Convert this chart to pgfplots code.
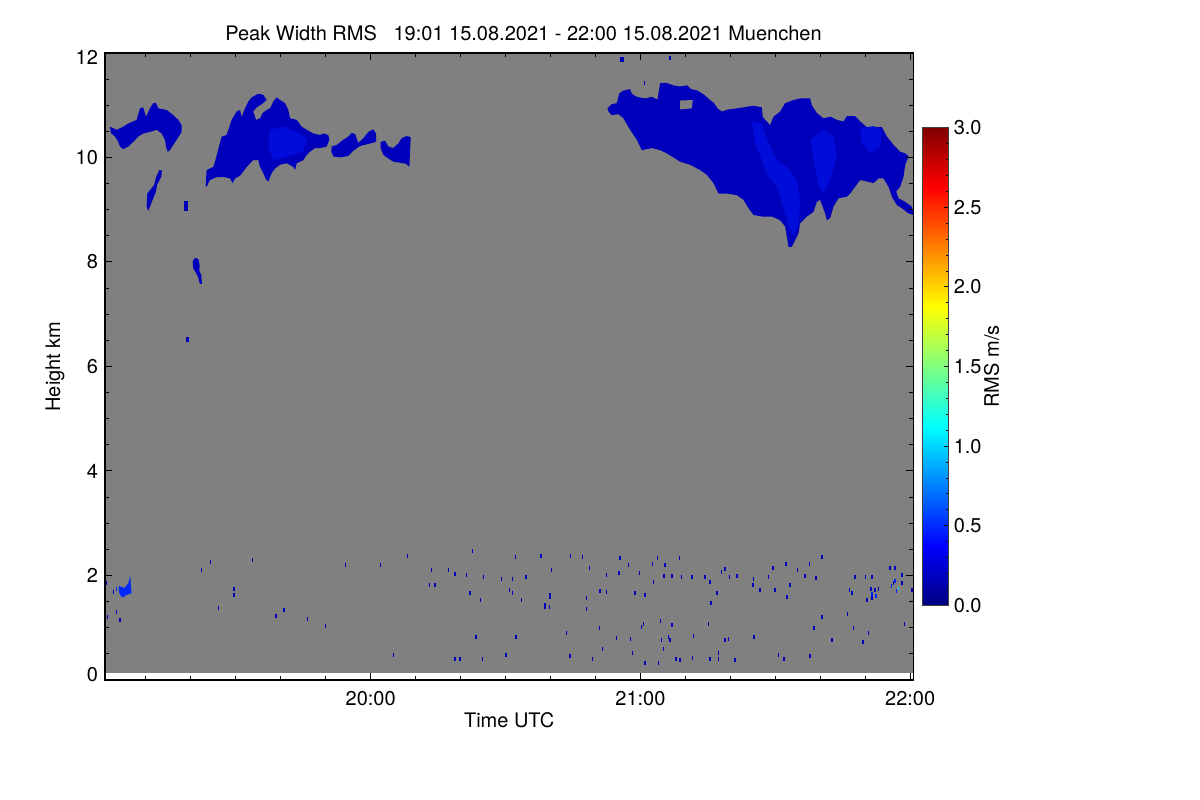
\documentclass[border=0pt]{standalone}
\usepackage{fontspec}
\setmainfont{TeX Gyre Heros}
\usepackage{pgfplots}
\pgfplotsset{compat=1.18}
\pgfkeys{/pgf/number format/assume math mode=true}
\definecolor{bg}{RGB}{128,128,128}
\definecolor{cdark}{RGB}{0,0,188}
\definecolor{clight}{RGB}{0,12,218}
\definecolor{cdot}{RGB}{0,0,185}
\definecolor{cbright}{RGB}{0,40,255}
\definecolor{ccyan}{RGB}{0,220,255}
\begin{document}
\fontsize{10bp}{12bp}\selectfont
\begin{tikzpicture}
\path[use as bounding box] (0,0) rectangle (600bp,400bp);
\begin{axis}[
  at={(52.5bp,60bp)}, anchor=south west,
  scale only axis, width=404.15bp, height=313.5bp,
  xmin=0.9, xmax=180.7, ymin=0, ymax=12,
  axis on top,
  xtick={60,120,180}, xticklabels={20:00,21:00,22:00},
  minor xtick={10,20,30,40,50,70,80,90,100,110,130,140,150,160,170},
  ytick={0,2,4,6,8,10,12},
  yticklabels={\smash{\raisebox{-0.5bp}{0}},2,4,6,8,10,\smash{\raisebox{-5.75bp}{12}}},
  minor y tick num=3,
  tick align=inside, major tick length=3.5bp, minor tick length=2bp,
  tick style={black, line width=0.5bp},
  axis line style={line width=0.7bp},
  xticklabel style={yshift=-2.2bp},
  xlabel={Time UTC}, ylabel={Height km},
  every axis x label/.style={at={(axis description cs:0.5,0)}, anchor=center, yshift=-20bp},
  every axis y label/.style={at={(axis description cs:0,0.5)}, anchor=center, xshift=-25bp, rotate=90},
  colormap/jet, point meta min=0, point meta max=3,
  colorbar,
  colorbar shift/.style={},
  colorbar style={
    scale only axis, width=13bp, height=238.85bp,
    at={(parent axis.east)}, anchor=west, xshift=4.5bp,
    ytick={0,0.5,1,1.5,2,2.5,3}, minor y tick num=4,
    ytick pos=right, yticklabel pos=right,
    tick align=inside, major tick length=2bp, minor tick length=1.2bp,
    tick style={black, line width=0.4bp},
    yticklabel style={xshift=-0.8bp, /pgf/number format/.cd, fixed, fixed zerofill, precision=1},
    ylabel={RMS m/s},
    every axis y label/.style={at={(axis description cs:1,0.5)}, anchor=center, xshift=21.7bp, rotate=90},
    axis line style={gray!50!black, line width=0.5bp},
  },
]
% background (no data)
\addplot[fill=bg, draw=none] coordinates {(0.9,0.13) (180.7,0.13) (180.7,12) (0.9,12)};

% cloud A
\addplot[fill=cdark, draw=none] coordinates {(2.00,10.59) (3.49,10.53) (4.96,10.59) (6.07,10.65) (7.94,10.72) (8.68,10.94) (9.41,10.96) (10.01,10.78) (10.90,10.94) (11.64,11.04) (12.24,11.04) (12.75,10.94) (14.62,10.91) (16.09,10.81) (17.20,10.72) (17.96,10.62) (17.96,10.49) (16.84,10.34) (16.09,10.24) (15.35,10.14) (14.84,10.11) (14.46,10.21) (14.24,10.34) (13.51,10.46) (12.39,10.53) (10.90,10.49) (9.41,10.46) (8.30,10.40) (7.19,10.30) (6.07,10.21) (4.96,10.16) (4.23,10.21) (3.85,10.30) (3.12,10.40) (2.22,10.47)};
% cloud B
\addplot[fill=cdark, draw=none] coordinates {(23.29,9.46) (23.51,9.76) (24.99,9.82) (25.37,9.92) (26.85,10.40) (27.96,10.43) (29.07,10.72) (30.19,10.88) (30.93,10.91) (31.30,10.78) (32.04,10.94) (32.78,11.07) (33.52,11.15) (35.01,11.22) (36.12,11.20) (36.86,11.10) (35.75,11.02) (34.64,10.96) (33.89,10.88) (34.49,10.72) (35.38,10.75) (35.97,10.85) (36.86,10.91) (37.60,10.94) (38.34,11.07) (39.09,11.15) (39.83,11.10) (40.94,11.04) (41.68,10.91) (42.05,10.75) (43.54,10.72) (44.65,10.59) (45.76,10.53) (47.24,10.46) (48.73,10.43) (49.47,10.46) (50.58,10.43) (50.80,10.34) (50.21,10.21) (48.73,10.18) (47.62,10.18) (46.50,10.11) (45.76,10.05) (45.02,9.95) (43.54,9.89) (43.17,9.76) (42.79,9.82) (41.31,9.89) (39.83,9.86) (38.72,9.79) (37.97,9.70) (37.23,9.54) (36.71,9.58) (36.12,9.70) (35.38,9.82) (35.01,9.95) (33.89,9.95) (32.41,9.82) (31.67,9.73) (30.93,9.65) (29.82,9.60) (29.30,9.51) (28.70,9.60) (27.22,9.63) (25.59,9.62) (24.25,9.57) (23.51,9.44)};
\addplot[fill=clight, draw=none] coordinates {(37.61,10.53) (40.57,10.59) (44.28,10.46) (45.77,10.34) (45.02,10.11) (41.32,10.02) (38.35,9.95) (37.24,10.21)};
% cloud C, D
\addplot[fill=cdark, draw=none] coordinates {(51.32,10.21) (52.44,10.24) (53.92,10.34) (55.03,10.40) (55.77,10.47) (56.52,10.45) (57.26,10.28) (58.37,10.37) (59.48,10.49) (60.59,10.54) (61.19,10.46) (61.19,10.30) (59.48,10.26) (57.63,10.22) (56.14,10.13) (55.03,10.03) (53.18,10.00) (51.69,10.02) (51.25,10.11)};
\addplot[fill=cdark, draw=none] coordinates {(62.23,10.30) (63.19,10.32) (63.93,10.21) (65.04,10.18) (66.16,10.27) (66.90,10.37) (68.01,10.41) (68.90,10.39) (68.75,10.11) (68.60,9.82) (67.86,9.88) (66.53,9.90) (65.04,9.92) (63.93,9.98) (62.82,10.05) (62.23,10.18)};
% small pieces
\addplot[fill=cdark, draw=none] coordinates {(12.98,9.76) (13.57,9.75) (13.42,9.63) (12.53,9.49) (12.24,9.35) (11.64,9.22) (10.90,9.06) (10.53,8.98) (10.16,9.06) (10.31,9.31) (11.05,9.39) (11.79,9.47) (12.24,9.62)};
\addplot[fill=cdark, draw=none] coordinates {(18.54,8.98) (19.43,8.98) (19.43,9.17) (18.54,9.17)};
\addplot[fill=cdark, draw=none] coordinates {(20.39,8.01) (20.91,8.08) (21.65,8.06) (21.95,7.94) (21.88,7.83) (22.32,7.75) (22.47,7.58) (22.03,7.58) (21.58,7.72) (20.99,7.81) (20.54,7.88)};
\addplot[fill=cdark, draw=none] coordinates {(18.91,6.47) (19.58,6.47) (19.58,6.57) (18.91,6.57)};
\addplot[fill=cdark, draw=none] coordinates {(115.4,11.82) (116.3,11.82) (116.3,11.93) (115.4,11.93)};

% cloud R
\addplot[fill=cdark, draw=none] coordinates {(112.66,10.94) (113.63,11.02) (114.74,11.04) (115.33,11.23) (116.22,11.28) (117.71,11.31) (118.08,11.22) (119.19,11.16) (121.04,11.13) (122.53,11.16) (123.79,11.11) (124.38,11.42) (125.72,11.43) (127.35,11.38) (128.83,11.36) (130.46,11.38) (131.20,11.31) (132.69,11.28) (134.17,11.20) (135.36,11.11) (136.40,11.04) (137.14,10.94) (138.10,10.88) (139.59,10.92) (141.44,10.94) (143.67,10.97) (145.15,10.99) (147.00,10.96) (147.23,10.77) (148.86,10.62) (149.60,10.78) (151.08,10.88) (152.19,11.04) (154.05,11.10) (155.53,11.13) (157.76,11.13) (158.13,11.00) (159.24,10.85) (160.72,10.75) (162.21,10.78) (163.69,10.72) (165.17,10.69) (165.92,10.79) (167.77,10.79) (168.88,10.69) (170.37,10.58) (171.85,10.58) (173.70,10.58) (174.82,10.40) (176.30,10.24) (177.78,10.11) (178.90,10.08) (179.64,10.02) (178.90,9.86) (178.52,9.63) (177.78,9.44) (176.89,9.35) (177.41,9.22) (178.90,9.15) (180.38,9.06) (180.75,8.90) (179.64,8.93) (178.15,9.03) (177.04,9.09) (175.93,9.25) (175.19,9.44) (174.07,9.60) (172.96,9.60) (171.85,9.51) (170.37,9.54) (168.88,9.57) (167.77,9.44) (166.66,9.31) (165.92,9.25) (164.06,9.22) (162.95,9.06) (162.21,8.84) (161.47,8.80) (161.09,8.93) (159.98,9.19) (159.24,9.15) (158.50,8.96) (157.02,8.87) (155.53,8.74) (155.16,8.55) (153.68,8.29) (152.94,8.29) (152.57,8.49) (152.19,8.68) (151.08,8.80) (149.23,8.87) (147.00,8.87) (145.15,8.90) (144.04,9.03) (142.92,9.19) (141.44,9.28) (139.21,9.31) (137.36,9.31) (136.25,9.51) (134.76,9.67) (133.28,9.76) (131.06,9.86) (128.83,9.92) (126.98,10.02) (125.86,10.08) (124.38,10.14) (122.53,10.18) (120.30,10.14) (119.19,10.34) (117.71,10.53) (116.22,10.75) (115.11,10.83) (113.63,10.81) (112.88,10.88)};
\addplot[fill=bg, draw=none] coordinates {(128.83,11.09) (131.65,11.10) (131.43,10.94) (128.83,10.92)};
\addplot[fill=clight, draw=none] coordinates {(144.78,10.69) (147.00,10.65) (148.12,10.34) (150.34,9.95) (152.57,9.82) (154.79,9.57) (155.53,9.19) (155.16,8.68) (154.05,8.49) (152.94,8.68) (151.82,9.06) (150.34,9.44) (148.49,9.63) (147.00,9.95) (145.52,10.27)};
\addplot[fill=clight, draw=none] coordinates {(157.76,10.34) (160.72,10.53) (162.95,10.40) (163.69,10.02) (162.21,9.57) (160.72,9.31) (159.61,9.44) (158.87,9.82)};
\addplot[fill=clight, draw=none] coordinates {(168.88,10.56) (171.85,10.60) (173.70,10.53) (173.33,10.21) (171.11,10.08) (169.25,10.27)};

% low-level cluster
\addplot[fill=cbright, draw=none] coordinates {(4.0,1.80) (5.2,1.76) (6.1,1.85) (6.5,1.99) (6.8,1.66) (5.7,1.63) (4.6,1.58) (4.0,1.68)};

% speckles
\addplot[only marks, mark=|, mark size=1bp, line width=0.7bp, color=cdot] coordinates {
(1.26,1.86) (2.75,1.69) (3.49,1.31) (4.23,1.14) (1.49,1.20) (22.40,2.10) (24.41,2.26) (26.11,1.38) (29.60,1.62) (29.60,1.75) (33.68,2.30) (38.94,1.22) (40.72,1.34) (45.91,1.17) (49.99,1.03) (54.44,2.20) (62.23,2.20) (65.05,0.48) (68.16,2.37) (73.06,1.82) (74.32,1.82) (73.58,2.10) (77.29,2.10) (78.77,2.02) (78.77,0.40) (79.88,0.40) (81.37,2.01) (82.11,1.66) (82.70,2.47) (83.44,0.83) (84.48,1.53) (84.93,0.40) (85.07,1.98) (89.16,1.94) (90.12,0.48) (90.86,1.72) (91.53,1.67) (91.60,1.94) (92.20,2.36) (92.34,0.82) (93.60,1.53) (94.57,1.98) (97.91,2.38) (98.80,1.40) (99.76,1.40) (99.91,1.63) (100.28,2.10)
(98.79,1.44) (99.91,1.59) (104.50,2.37) (107.10,2.35) (108.66,2.14) (108.06,1.56) (108.06,1.35) (111.03,1.71) (112.51,1.69) (112.51,2.01) (115.48,2.33) (115.26,2.04) (110.88,0.99) (103.61,0.89) (104.36,0.46) (109.40,0.40) (111.55,0.59) (114.74,0.80) (117.34,2.20) (117.85,0.78) (118.82,1.66) (119.78,2.04) (121.04,1.63) (120.67,1.07) (120.30,1.01) (118.30,0.52) (121.04,0.33) (122.75,2.22) (122.90,1.88) (123.79,2.33) (124.53,1.13) (124.75,0.76) (125.12,0.59) (125.27,1.99) (125.49,2.20) (126.24,0.83) (126.61,0.76) (126.98,1.99) (126.98,1.05) (124.01,0.33) (127.94,0.41) (128.68,2.33) (128.83,0.38) (129.20,1.98) (131.43,1.98) (131.65,0.43) (131.80,0.84) (134.39,1.98) (135.13,1.07) (135.51,1.88) (135.51,0.40) (135.66,1.47) (136.99,1.66) (137.36,0.51) (137.36,0.41) (138.10,2.07) (138.84,2.12) (138.84,0.76) (139.59,0.78) (139.81,1.98) (141.07,0.38) (141.44,1.99) (145.00,1.82) (145.15,1.94) (146.63,1.72) (145.30,0.83) (148.49,1.98) (149.45,2.14) (149.97,1.72) (150.71,0.48) (151.97,0.40) (152.42,2.22) (152.57,1.59) (153.31,1.82) (154.94,2.10) (156.64,1.99) (157.61,2.22) (157.76,0.45) (158.65,0.99) (159.09,1.96) (160.35,2.35) (160.35,1.21) (162.58,0.76) (166.06,1.27) (166.51,1.72) (167.03,1.66) (167.77,1.98) (167.40,0.99) (169.48,0.73) (170.00,1.98) (170.37,1.53) (170.74,0.89) (171.48,1.98) (171.33,1.75) (171.48,1.56) (172.22,1.72) (172.96,1.75) (175.56,2.14) (176.30,1.85) (176.67,2.14) (178.15,2.01) (178.15,1.85) (178.75,1.07) (180.38,1.72)
(126.61,11.90) (120.9,11.43)
};
\addplot[only marks, mark=|, mark size=1bp, line width=0.7bp, color=cbright] coordinates {
(175.9,1.80) (176.6,1.90) (177.0,1.70) (171.5,1.65) (3.4,1.75) (6.2,1.80) (172.4,1.60) (5.3,1.62)
};
\addplot[only marks, mark=|, mark size=0.8bp, line width=0.7bp, color=ccyan] coordinates {(177.41,1.75)};
\end{axis}
\node[anchor=center] at (261.75bp,383.5bp) {Peak Width RMS\ \ \ 19:01 15.08.2021 - 22:00 15.08.2021 Muenchen};
\end{tikzpicture}
\end{document}
